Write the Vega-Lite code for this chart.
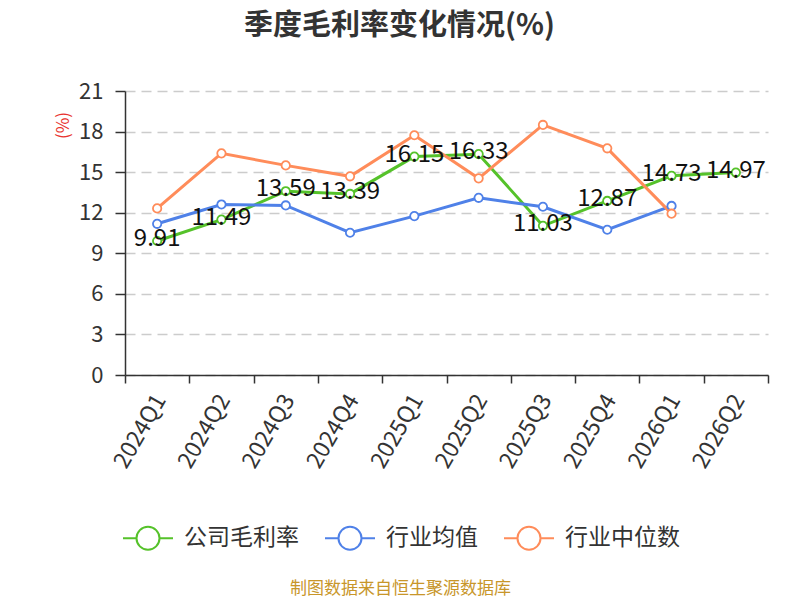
{
  "$schema": "https://vega.github.io/schema/vega-lite/v6.json",
  "width": 643,
  "height": 284,
  "autosize": {"type": "none"},
  "padding": {"left": 125, "top": 91, "right": 32, "bottom": 225},
  "background": "white",
  "config": {
    "font": "Noto Sans CJK SC",
    "view": {"stroke": null}
  },
  "title": {
    "text": "季度毛利率变化情况(%)",
    "fontSize": 29,
    "fontWeight": "bold",
    "color": "#333333",
    "anchor": "middle",
    "dx": -47,
    "offset": 39
  },
  "data": {
    "values": [
      {"q": "2024Q1", "s": "公司毛利率", "v": 9.91},
      {"q": "2024Q2", "s": "公司毛利率", "v": 11.49},
      {"q": "2024Q3", "s": "公司毛利率", "v": 13.59},
      {"q": "2024Q4", "s": "公司毛利率", "v": 13.39},
      {"q": "2025Q1", "s": "公司毛利率", "v": 16.15},
      {"q": "2025Q2", "s": "公司毛利率", "v": 16.33},
      {"q": "2025Q3", "s": "公司毛利率", "v": 11.03},
      {"q": "2025Q4", "s": "公司毛利率", "v": 12.87},
      {"q": "2026Q1", "s": "公司毛利率", "v": 14.73},
      {"q": "2026Q2", "s": "公司毛利率", "v": 14.97},
      {"q": "2024Q1", "s": "行业均值", "v": 11.18},
      {"q": "2024Q2", "s": "行业均值", "v": 12.61},
      {"q": "2024Q3", "s": "行业均值", "v": 12.54},
      {"q": "2024Q4", "s": "行业均值", "v": 10.52},
      {"q": "2025Q1", "s": "行业均值", "v": 11.75},
      {"q": "2025Q2", "s": "行业均值", "v": 13.1},
      {"q": "2025Q3", "s": "行业均值", "v": 12.44},
      {"q": "2025Q4", "s": "行业均值", "v": 10.74},
      {"q": "2026Q1", "s": "行业均值", "v": 12.5},
      {"q": "2024Q1", "s": "行业中位数", "v": 12.32},
      {"q": "2024Q2", "s": "行业中位数", "v": 16.39},
      {"q": "2024Q3", "s": "行业中位数", "v": 15.5},
      {"q": "2024Q4", "s": "行业中位数", "v": 14.69},
      {"q": "2025Q1", "s": "行业中位数", "v": 17.73},
      {"q": "2025Q2", "s": "行业中位数", "v": 14.54},
      {"q": "2025Q3", "s": "行业中位数", "v": 18.49},
      {"q": "2025Q4", "s": "行业中位数", "v": 16.76},
      {"q": "2026Q1", "s": "行业中位数", "v": 11.93}
    ]
  },
  "encoding": {
    "x": {
      "field": "q",
      "type": "ordinal",
      "bandPosition": 0.5,
      "scale": {"type": "band", "paddingInner": 0, "paddingOuter": 0},
      "axis": {
        "title": "制图数据来自恒生聚源数据库",
        "titleFontSize": 17,
        "titleFontWeight": "normal",
        "titleColor": "#c8962a",
        "titleX": 275,
        "titleY": 213,
        "titleAlign": "center",
        "titleBaseline": "middle",
        "titleAngle": 0,
        "labelAngle": -60,
        "labelAlign": "right",
        "labelBaseline": "middle",
        "labelFontSize": 23,
        "labelColor": "#333333",
        "labelPadding": 13,
        "labelOffset": 3,
        "tickSize": 8,
        "tickColor": "#333333",
        "tickWidth": 1.5,
        "tickBand": "extent",
        "domainColor": "#333333",
        "domainWidth": 1.5,
        "grid": false
      }
    },
    "y": {
      "field": "v",
      "type": "quantitative",
      "scale": {"domain": [0, 21], "nice": false},
      "axis": {
        "values": [0, 3, 6, 9, 12, 15, 18, 21],
        "title": "(%)",
        "titleColor": "#e8332e",
        "titleFontSize": 17,
        "titleFontWeight": "normal",
        "titleX": -62,
        "titleY": 34,
        "titleAngle": -90,
        "titleAlign": "center",
        "titleBaseline": "middle",
        "labelFontSize": 22,
        "labelColor": "#333333",
        "labelPadding": 12,
        "tickSize": 10,
        "tickColor": "#333333",
        "tickWidth": 1.5,
        "domainColor": "#333333",
        "domainWidth": 1.5,
        "grid": true,
        "gridColor": "#cccccc",
        "gridDash": [10, 6],
        "gridWidth": 1.5
      }
    }
  },
  "layer": [
    {
      "mark": {"type": "line", "strokeWidth": 3},
      "encoding": {
        "color": {
          "field": "s",
          "type": "nominal",
          "sort": ["公司毛利率", "行业均值", "行业中位数"],
          "scale": {"domain": ["公司毛利率", "行业均值", "行业中位数"], "range": ["#55c22a", "#4f81e8", "#ff8c5a"]},
          "legend": {
            "title": null,
            "orient": "none",
            "direction": "horizontal",
            "legendX": -3,
            "legendY": 421,
            "labelFontSize": 23,
            "labelColor": "#333333",
            "labelOffset": 10,
            "columnPadding": 22,
            "symbolType": "M-1,0L-0.46,0M0.46,0L1,0M-0.46,0A0.46,0.46 0 1,1 0.46,0A0.46,0.46 0 1,1 -0.46,0Z",
            "symbolSize": 2500,
            "symbolStrokeWidth": 2,
            "symbolFillColor": "white",
            "encode": {"symbols": {"update": {"fill": {"value": "white"}}}}
          }
        }
      }
    },
    {
      "mark": {"type": "point", "shape": "circle", "filled": true, "fill": "white", "size": 70, "strokeWidth": 1.8, "opacity": 1},
      "encoding": {
        "stroke": {
          "field": "s",
          "type": "nominal",
          "scale": {"domain": ["公司毛利率", "行业均值", "行业中位数"], "range": ["#55c22a", "#4f81e8", "#ff8c5a"]},
          "legend": null
        }
      }
    },
    {
      "transform": [{"filter": "datum.s === '公司毛利率'"}],
      "mark": {"type": "text", "fontSize": 24, "color": "#111111", "align": "center", "baseline": "middle", "dy": -2},
      "encoding": {
        "text": {"field": "v", "type": "quantitative", "format": ".2f"}
      }
    }
  ]
}
